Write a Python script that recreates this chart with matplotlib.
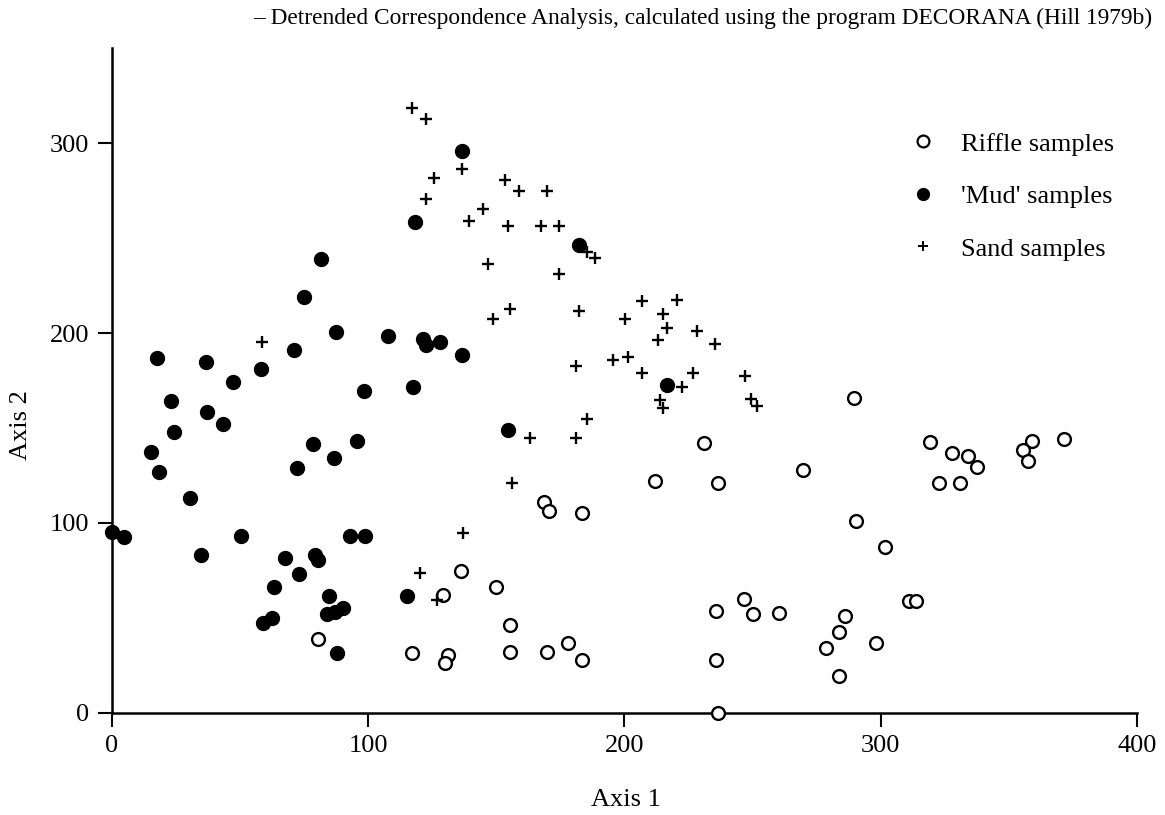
import matplotlib
matplotlib.use("Agg")
import matplotlib.pyplot as plt
from matplotlib.lines import Line2D

# DECORANA sample scores (axis 1, axis 2)
riffle_x = [289.6, 231.2, 269.8, 212.1, 236.7, 290.4, 301.7, 168.7, 170.7, 183.4,
            136.4, 149.9, 129.1, 155.4, 117.3, 131.0, 130.0, 155.4, 169.7, 177.9,
            183.4, 80.4, 246.8, 235.7, 250.3, 260.4, 286.1, 283.9, 278.7, 298.2,
            235.8, 283.9, 236.7, 371.6, 319.4, 328.0, 334.2, 337.7, 322.8, 330.9,
            358.9, 355.4, 357.6, 311.1, 313.7]
riffle_y = [166.0, 142.0, 128.0, 122.2, 121.0, 101.3, 87.6, 111.1, 106.4, 105.2,
            74.9, 66.2, 62.1, 46.3, 31.8, 30.5, 26.2, 32.3, 32.3, 36.7,
            27.9, 39.1, 59.9, 53.9, 52.1, 52.5, 51.1, 42.5, 34.1, 36.7,
            27.9, 19.6, 0.2, 144.4, 142.6, 136.6, 135.3, 129.7, 120.8, 120.8,
            143.1, 138.2, 132.6, 59.1, 59.1]

mud_x = [81.5, 75.2, 87.6, 71.1, 17.6, 36.8, 58.1, 47.5, 23.0, 37.0,
         98.5, 43.3, 24.3, 78.7, 95.5, 15.5, 86.7, 18.6, 72.2, 30.5,
         0.0, 4.8, 50.4, 93.0, 99.0, 35.0, 67.7, 79.3, 80.6, 73.2,
         63.4, 84.9, 83.9, 87.1, 90.1, 58.9, 62.4, 87.8, 136.6, 118.5,
         182.4, 107.9, 121.6, 122.6, 128.1, 136.6, 117.4, 154.5, 216.5, 115.1]
mud_y = [238.9, 219.0, 200.8, 191.0, 186.8, 185.0, 181.0, 174.0, 164.0, 158.5,
         169.7, 152.3, 148.1, 141.8, 143.0, 137.4, 134.4, 127.1, 128.8, 113.2,
         95.0, 92.8, 93.2, 93.2, 93.2, 83.2, 81.5, 83.2, 80.6, 73.2,
         66.2, 61.8, 52.0, 53.3, 55.4, 47.2, 50.2, 31.8, 295.8, 258.6,
         246.4, 198.2, 196.7, 193.8, 195.2, 188.5, 171.5, 149.0, 172.7, 61.8]

sand_x = [58.8, 117.0, 122.6, 136.6, 125.8, 153.5, 159.0, 169.7, 122.6, 145.0,
          139.4, 154.5, 167.4, 174.3, 185.3, 188.6, 146.9, 174.6, 182.3, 155.4,
          148.9, 200.3, 207.0, 220.7, 215.2, 216.5, 228.2, 213.0, 235.4, 181.2,
          195.7, 201.4, 206.8, 226.9, 222.6, 247.1, 213.9, 215.2, 249.3, 251.9,
          163.2, 181.2, 185.3, 156.3, 137.2, 120.3, 126.8]
sand_y = [195.2, 318.4, 312.6, 286.3, 281.4, 280.7, 274.9, 274.9, 270.5, 265.2,
          259.1, 256.6, 256.6, 256.6, 242.9, 239.4, 236.3, 231.2, 211.7, 212.6,
          207.3, 207.3, 216.8, 217.5, 210.1, 202.6, 201.3, 196.1, 194.3, 182.7,
          185.9, 187.5, 178.9, 178.9, 171.5, 177.5, 164.8, 160.5, 165.2, 161.7,
          145.0, 145.0, 154.7, 121.0, 94.9, 73.9, 59.5]

x_ticks = [0, 100, 200, 300, 400]
y_ticks = [0, 100, 200, 300]
labels = ["Riffle samples", "'Mud' samples", "Sand samples"]

plt.rcParams["font.family"] = ["Liberation Serif", "DejaVu Serif"]

fig = plt.figure(figsize=(11.65, 8.15), dpi=100)
ax = fig.add_axes([0.0959, 0.1252, 0.8801, 0.8158])

ax.scatter(riffle_x, riffle_y, s=85, facecolors="white", edgecolors="black",
           linewidths=1.7, clip_on=False, zorder=3)
ax.scatter(mud_x, mud_y, s=100, c="black", clip_on=False, zorder=3)
ax.scatter(sand_x, sand_y, s=85, marker="+", c="black", linewidths=1.7,
           clip_on=False, zorder=3)

ax.set_xlim(0, 400)
ax.set_ylim(0, 350)
ax.set_xticks(x_ticks)
ax.set_yticks(y_ticks)
ax.tick_params(labelsize=19, length=10, width=1.5, pad=6)
for side in ["top", "right"]:
    ax.spines[side].set_visible(False)
for side in ["left", "bottom"]:
    ax.spines[side].set_linewidth(1.8)

handles = [
    Line2D([], [], ls="none", marker="o", ms=8.5, mfc="white", mec="black", mew=1.6),
    Line2D([], [], ls="none", marker="o", ms=8.5, mfc="black", mec="black"),
    Line2D([], [], ls="none", marker="+", ms=7.5, mec="black", mew=1.4),
]
fig.legend(handles, labels, loc="upper left", bbox_to_anchor=(0.781, 0.838),
           frameon=False, fontsize=19, handlelength=1.0, handletextpad=0.95,
           labelspacing=1.1, borderpad=0, borderaxespad=0)

fig.text(0.603, 0.978,
         "\u2013 Detrended Correspondence Analysis, calculated using the program DECORANA (Hill 1979b)",
         ha="center", va="center", fontsize=16.8)
fig.text(0.537, 0.019, "Axis 1", ha="center", va="center", fontsize=19)
fig.text(0.018, 0.478, "Axis 2", ha="center", va="center", rotation=90, fontsize=19)

fig.savefig("out.png", dpi=100)
